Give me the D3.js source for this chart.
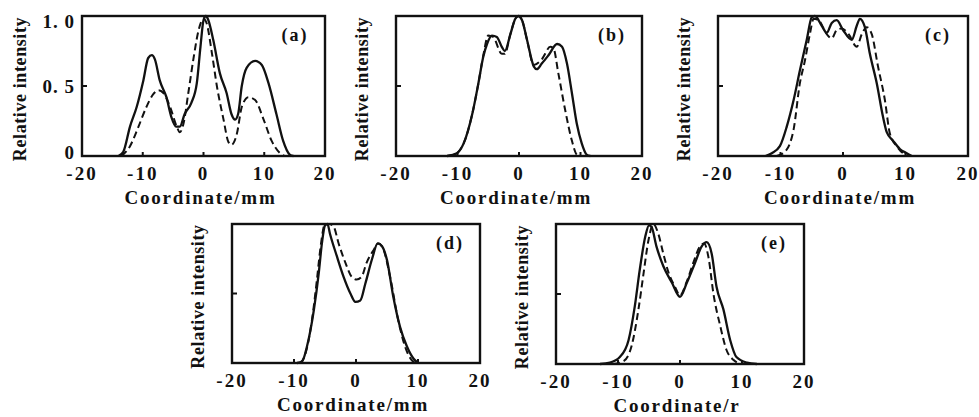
<!DOCTYPE html>
<html>
<head>
<meta charset="utf-8">
<script src="https://d3js.org/d3.v7.min.js"></script>
<style>
  body { margin: 0; background: #fff; }
  text { font-family: "Liberation Serif", "DejaVu Serif", serif; fill: #111; font-weight: bold; }
</style>
</head>
<body>
<svg width="979" height="417"></svg>
<script>

// x ticks and y ticks shared by every panel
var xTicks = [-20, -10, 0, 10, 20];
var yTicks = [0, 0.5, 1];

// curves: [coordinate, relative intensity]
var aSolid = [[-14.0,0],[-13.2,0.03],[-12.1,0.21],[-11.0,0.35],[-9.9,0.54],[-9.1,0.70],[-8.5,0.72],[-8.0,0.69],
  [-7.2,0.54],[-6.1,0.42],[-5.3,0.28],[-4.5,0.21],[-3.9,0.21],[-3.1,0.30],[-2.0,0.38],[-1.1,0.52],[-0.5,0.78],
  [0,0.97],[0.4,1.0],[0.8,0.97],[1.6,0.83],[2.7,0.59],[3.8,0.45],[4.6,0.30],[5.2,0.26],[5.7,0.30],[6.3,0.50],
  [7.1,0.63],[8.5,0.68],[9.6,0.65],[10.7,0.52],[12.0,0.30],[13.1,0.11],[14.2,0.01],[14.8,0]];
var aDash = [[-13.5,0],[-12.1,0.07],[-10.7,0.21],[-9.4,0.35],[-8.3,0.44],[-7.4,0.47],[-6.6,0.45],[-5.5,0.35],
  [-4.4,0.21],[-3.9,0.17],[-3.3,0.23],[-2.5,0.45],[-1.6,0.71],[-0.8,0.90],[0,0.98],[0.5,0.95],[1.4,0.73],
  [2.2,0.50],[3.3,0.26],[4.1,0.10],[4.6,0.08],[5.5,0.16],[6.3,0.35],[7.4,0.42],[8.5,0.40],[9.9,0.26],
  [11.2,0.11],[12.6,0.02],[13.4,0]];

var bSolid = [[-11.7,0],[-10.1,0.02],[-9.0,0.09],[-7.6,0.30],[-6.6,0.52],[-5.8,0.71],[-5.2,0.80],[-4.4,0.86],
  [-3.6,0.85],[-2.8,0.78],[-2.3,0.75],[-1.4,0.87],[-0.6,0.98],[-0.1,1.0],[0.5,0.97],[1.3,0.83],[2.4,0.64],
  [2.9,0.62],[3.7,0.66],[4.8,0.72],[6.2,0.80],[7.0,0.78],[7.8,0.66],[8.6,0.45],[9.4,0.23],[10.2,0.09],
  [11.0,0.01],[11.6,0]];
var bDash = [[-11.7,0],[-10.1,0.02],[-9.0,0.09],[-7.6,0.30],[-6.6,0.52],[-5.8,0.72],[-5.0,0.86],[-4.2,0.85],
  [-2.8,0.73],[-2.3,0.73],[-1.4,0.87],[-0.6,0.98],[-0.1,1.0],[0.5,0.97],[1.3,0.83],[2.4,0.65],[3.7,0.69],
  [5.1,0.78],[5.6,0.77],[6.4,0.59],[7.5,0.33],[8.6,0.11],[9.4,0.01],[10.0,0]];

var cSolid = [[-12.4,0],[-11.4,0.02],[-10.1,0.07],[-9.0,0.21],[-7.9,0.40],[-6.9,0.61],[-5.8,0.83],[-5.0,0.99],
  [-4.5,1.0],[-3.4,0.93],[-2.6,0.88],[-1.8,0.95],[-1.0,0.97],[0,0.90],[1.4,0.83],[2.2,0.93],[2.7,0.98],
  [3.5,0.92],[4.3,0.73],[5.4,0.52],[6.4,0.28],[7.0,0.17],[8.0,0.11],[9.1,0.05],[10.2,0.02],[11.0,0]];
var cDash = [[-10.6,0],[-9.3,0.03],[-7.9,0.19],[-6.9,0.52],[-6.1,0.68],[-5.3,0.87],[-4.7,0.98],[-3.9,0.97],
  [-2.6,0.87],[-1.8,0.84],[-1.0,0.90],[-0.2,0.91],[0.9,0.87],[2.2,0.78],[3.0,0.87],[3.8,0.92],[4.6,0.87],
  [5.6,0.64],[6.7,0.40],[7.5,0.16],[8.6,0.07],[9.6,0.02],[10.4,0]];

var dSolid = [[-9.5,0],[-8.7,0.01],[-7.9,0.12],[-6.8,0.38],[-6.0,0.65],[-5.5,0.86],[-5.0,0.99],[-4.6,1.0],
  [-4.2,0.93],[-3.1,0.77],[-2.0,0.62],[-0.9,0.50],[-0.1,0.44],[0.7,0.45],[1.5,0.57],[2.6,0.75],[3.5,0.86],
  [4.2,0.84],[5.0,0.74],[6.0,0.48],[7.1,0.26],[8.2,0.12],[9.3,0.03],[10.1,0]];
var dDash = [[-9.0,0],[-8.2,0.06],[-7.1,0.31],[-6.3,0.60],[-5.7,0.84],[-5.0,1.0],[-4.3,1.0],[-3.6,0.98],
  [-2.8,0.86],[-1.7,0.72],[-0.7,0.62],[0.1,0.60],[0.9,0.62],[1.7,0.72],[2.8,0.81],[3.6,0.86],[4.3,0.83],
  [5.5,0.62],[6.8,0.31],[7.9,0.12],[9.0,0.02],[9.8,0]];

var eSolid = [[-12.9,0],[-11.3,0.01],[-9.7,0.05],[-8.3,0.17],[-7.3,0.41],[-6.5,0.67],[-5.6,0.91],[-5.0,0.99],
  [-4.6,0.98],[-3.8,0.84],[-2.7,0.70],[-1.3,0.58],[0,0.48],[1.1,0.58],[2.4,0.72],[3.5,0.84],[4.3,0.87],
  [5.1,0.79],[5.9,0.55],[7.0,0.39],[8.1,0.17],[9.1,0.05],[10.8,0.01],[12.4,0]];
var eDash = [[-10.8,0],[-9.1,0.02],[-7.8,0.13],[-6.7,0.39],[-5.9,0.64],[-5.1,0.88],[-4.3,1.0],[-3.5,0.93],
  [-2.7,0.79],[-1.9,0.66],[-0.8,0.55],[0,0.49],[1.1,0.59],[2.2,0.73],[3.2,0.84],[3.9,0.86],[4.6,0.76],
  [5.4,0.50],[6.5,0.27],[7.5,0.10],[8.6,0.03],[9.7,0]];

// panel frames (pixel layout)
var panels = [
  {tag:'(a)', x0:82,  x1:325, y0:16,  y1:156, solid:aSolid, dash:aDash, unit:'Coordinate/mm', yLabels:true},
  {tag:'(b)', x0:396, x1:642, y0:16,  y1:156, solid:bSolid, dash:bDash, unit:'Coordinate/mm'},
  {tag:'(c)', x0:718, x1:968, y0:16,  y1:156, solid:cSolid, dash:cDash, unit:'Coordinate/mm'},
  {tag:'(d)', x0:232, x1:480, y0:224, y1:363, solid:dSolid, dash:dDash, unit:'Coordinate/mm'},
  {tag:'(e)', x0:556, x1:804, y0:224, y1:364, solid:eSolid, dash:eDash, unit:'Coordinate/r'}
];

var svg = d3.select('svg');

panels.forEach(function(p) {
  var x = d3.scaleLinear().domain([-20, 20]).range([p.x0, p.x1]);
  var y = d3.scaleLinear().domain([0, 1]).range([p.y1, p.y0]);
  var g = svg.append('g');

  var line = d3.line()
    .x(function(d) { return x(d[0]); })
    .y(function(d) { return y(d[1]); })
    .curve(d3.curveMonotoneX);

  // curves
  g.append('path').attr('d', line(p.dash))
    .attr('fill', 'none').attr('stroke', '#111').attr('stroke-width', 2)
    .attr('stroke-dasharray', '7,4');
  g.append('path').attr('d', line(p.solid))
    .attr('fill', 'none').attr('stroke', '#111').attr('stroke-width', 2.3);

  // frame
  g.append('rect')
    .attr('x', p.x0).attr('y', p.y0)
    .attr('width', p.x1 - p.x0).attr('height', p.y1 - p.y0)
    .attr('fill', 'none').attr('stroke', '#111').attr('stroke-width', 2.4);

  // inward ticks
  g.selectAll('.xt').data(xTicks.slice(1, -1)).enter().append('line')
    .attr('x1', function(d) { return x(d); }).attr('x2', function(d) { return x(d); })
    .attr('y1', p.y1).attr('y2', p.y1 - 4)
    .attr('stroke', '#111').attr('stroke-width', 2);
  g.append('line')
    .attr('x1', p.x0).attr('x2', p.x0 + 5)
    .attr('y1', y(0.5)).attr('y2', y(0.5))
    .attr('stroke', '#111').attr('stroke-width', 2);

  // x tick labels
  g.selectAll('.xl').data(xTicks).enter().append('text')
    .attr('x', function(d) { return x(d); })
    .attr('y', p.y1 + 24)
    .attr('text-anchor', 'middle')
    .attr('font-size', 19).attr('letter-spacing', 2)
    .text(function(d) { return d; });

  // y tick labels only on (a)
  if (p.yLabels) {
    g.selectAll('.yl').data(yTicks).enter().append('text')
      .attr('x', p.x0 - 7)
      .attr('y', function(d) { return y(d) + (d === 1 ? 12 : d === 0 ? 3 : 7); })
      .attr('text-anchor', 'end')
      .attr('font-size', 19).attr('letter-spacing', 1)
      .text(function(d) { return d === 0 ? '0' : d3.format('.1f')(d).replace('.', '. '); });
  }

  // axis titles
  g.append('text')
    .attr('x', (p.x0 + p.x1) / 2 - 3)
    .attr('y', p.y1 + 48)
    .attr('text-anchor', 'middle')
    .attr('font-size', 19).attr('letter-spacing', 1.8)
    .text(p.unit);
  var ly = (p.y0 + p.y1) / 2 + 3;
  var lx = p.yLabels ? p.x0 - 62 : p.x0 - 34;
  g.append('text')
    .attr('transform', 'translate(' + (lx + 6) + ',' + ly + ') rotate(-90)')
    .attr('text-anchor', 'middle')
    .attr('font-size', 18).attr('letter-spacing', 0.6)
    .text('Relative intensity');

  // panel tag
  g.append('text')
    .attr('x', p.x1 - 30)
    .attr('y', p.y0 + 25)
    .attr('text-anchor', 'middle')
    .attr('font-size', 18).attr('letter-spacing', 2)
    .text(p.tag);
});

</script>
</body>
</html>
